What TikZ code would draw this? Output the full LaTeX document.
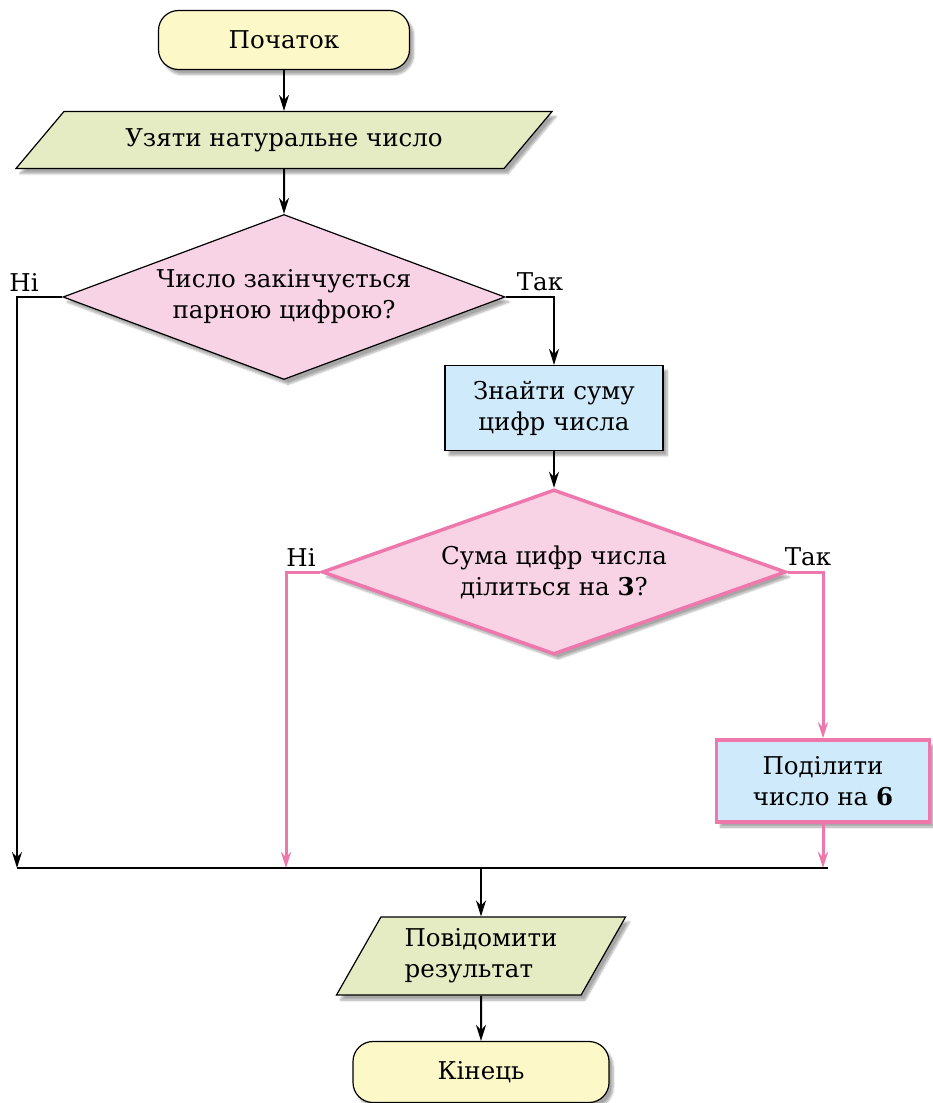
\documentclass[tikz,border=0pt]{standalone}
\usepackage{fontspec}
\setmainfont{DejaVu Serif}
\usetikzlibrary{shapes.geometric,arrows.meta,shadows.blur,positioning}
\definecolor{termfill}{HTML}{FDF8C8}
\definecolor{iofill}{HTML}{E5ECC3}
\definecolor{decfill}{HTML}{F8D3E5}
\definecolor{procfill}{HTML}{CFEBFB}
\definecolor{pinkline}{HTML}{EE78AC}
\begin{document}
\begin{tikzpicture}[x=1pt,y=-1pt,
  every node/.style={font=\fontsize{24.5}{31}\selectfont},
  softshadow/.style={blur shadow={shadow xshift=4pt,shadow yshift=-5pt,shadow blur steps=8,shadow opacity=35}},
  term/.style={draw,line width=1.2pt,fill=termfill,rounded corners=20pt,minimum width=251pt,minimum height=59pt,softshadow},
  io/.style={trapezium,draw,line width=1.2pt,fill=iofill,trapezium stretches body,softshadow},
  dec/.style={diamond,draw,line width=1.2pt,fill=decfill,inner sep=0pt,align=center,softshadow},
  proc/.style={rectangle,draw,line width=1.2pt,fill=procfill,align=center,softshadow},
  conn/.style={line width=2pt,-{Stealth[length=16pt,width=10pt]}},
  pconn/.style={conn,draw=pinkline,line width=3pt},
  lbl/.style={inner sep=0pt}]
\useasboundingbox (0,0) rectangle (933,1103);

\node[term] (start) at (284,40) {Початок};
\node[io,trapezium left angle=32,trapezium right angle=148,minimum width=536pt,minimum height=57pt] (in) at (284,140) {Узяти натуральне число};
\node[dec,aspect=2.68,minimum width=442pt,minimum height=165pt] (d1) at (284,297) {Число закінчується\\парною цифрою?};
\node[proc,minimum width=218pt,minimum height=85pt] (p1) at (554,408) {Знайти суму\\цифр числа};
\node[dec,aspect=2.81,draw=pinkline,line width=3.5pt,minimum width=464pt,minimum height=165pt] (d2) at (554,572) {Сума цифр числа\\ділиться на \textbf{3}?};
\node[proc,draw=pinkline,line width=3.5pt,minimum width=213pt,minimum height=82pt] (p2) at (823,781) {Поділити\\число на \textbf{6}};
\node[io,trapezium left angle=54,trapezium right angle=126,minimum width=289pt,minimum height=78pt,align=left] (out) at (481,956) {Повідомити\\результат};
\node[term,minimum width=256pt,minimum height=61pt] (stop) at (481,1072) {Кінець};

\node[lbl] (no1) at (24,282) {Ні};
\node[lbl] (yes1) at (540,282) {Так};
\node[lbl] (no2) at (301,557) {Ні};
\node[lbl] (yes2) at (808,557) {Так};

\coordinate (j1) at (17,868);
\coordinate (j2) at (286,868);
\coordinate (j3) at (828,868);
\coordinate (j4) at (481,868);

\draw[conn] (start) -- (in);
\draw[conn] (in) -- (d1);
\draw[conn] (d1.west) -| (j1);
\draw[conn] (d1.east) -| (p1.north);
\draw[conn] (p1) -- (d2);
\draw[pconn] (d2.west) -| (j2);
\draw[pconn] (d2.east) -| (p2.north);
\draw[pconn] (p2.south) -- (p2.south |- j1);
\draw[line width=2pt] (j1) -- (j3);
\draw[conn] (j4) -- (out);
\draw[conn] (out) -- (stop);
\end{tikzpicture}
\end{document}
